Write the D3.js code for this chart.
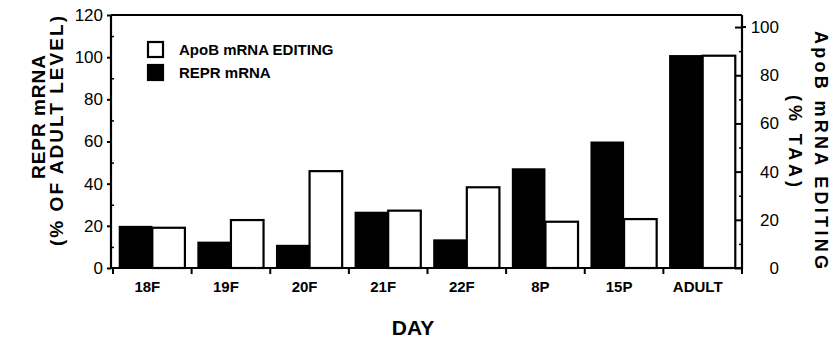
<!DOCTYPE html>
<html>
<head>
<meta charset="utf-8">
<script src="https://cdn.jsdelivr.net/npm/d3@7"></script>
<style>
  body { margin: 0; background: #fff; }
  svg { display: block; font-family: 'Liberation Sans', Arial, sans-serif; }
</style>
</head>
<body>
<svg id="chart" width="834" height="338"></svg>
<script>
// Data
const days = ['18F', '19F', '20F', '21F', '22F', '8P', '15P', 'ADULT'];
const reprMRNA = [20, 12.5, 11, 26.7, 13.6, 47.3, 60, 101];      // % of adult level (left axis)
const apoBEditing = [16.7, 19.9, 40.2, 23.8, 33.5, 19.2, 20.3, 88.1]; // % TAA (right axis)
const leftTicks = [0, 20, 40, 60, 80, 100, 120];
const leftMinor = [10, 30, 50, 70, 90, 110];
const rightTicks = [0, 20, 40, 60, 80, 100];
const rightMinor = [10, 30, 50, 70, 90];

const plot = { left: 111, right: 742, top: 15, bottom: 268 };
const svg = d3.select('#chart');

const x = d3.scaleBand().domain(days).range([113, plot.right]).padding(0);
const sub = d3.scaleBand().domain(['repr', 'apob']).range([0, x.bandwidth()]).paddingOuter(0.17).paddingInner(0);
const yL = d3.scaleLinear().domain([0, 120]).range([plot.bottom, plot.top]);
const yR = d3.scaleLinear().domain([0, 105]).range([plot.bottom, plot.top]);

const rows = days.map((d, i) => ({ day: d, repr: reprMRNA[i], apob: apoBEditing[i] }));

// bars
const groups = svg.append('g').selectAll('g')
  .data(rows)
  .enter()
  .append('g')
  .attr('transform', d => `translate(${x(d.day)},0)`);

groups.append('rect')
  .attr('x', sub('repr'))
  .attr('y', d => yL(d.repr))
  .attr('width', sub.bandwidth())
  .attr('height', d => yL(0) - yL(d.repr))
  .attr('fill', '#000');

groups.append('rect')
  .attr('x', sub('apob'))
  .attr('y', d => yR(d.apob))
  .attr('width', sub.bandwidth() - 1)
  .attr('height', d => yR(0) - yR(d.apob))
  .attr('fill', '#fff')
  .attr('stroke', '#000')
  .attr('stroke-width', 2.2);

// frame
const frame = svg.append('g').attr('stroke', '#000').attr('stroke-width', 2.2);
frame.append('line').attr('x1', plot.left).attr('x2', plot.right).attr('y1', plot.top).attr('y2', plot.top);
frame.append('line').attr('x1', plot.left).attr('x2', plot.right).attr('y1', plot.bottom).attr('y2', plot.bottom);
frame.append('line').attr('x1', plot.left).attr('x2', plot.left).attr('y1', plot.top).attr('y2', plot.bottom + 1);
frame.append('line').attr('x1', plot.right).attr('x2', plot.right).attr('y1', plot.top).attr('y2', plot.bottom + 1);

// left axis
const leftAxis = svg.append('g')
  .attr('transform', `translate(${plot.left},0)`)
  .call(d3.axisLeft(yL).tickValues(leftTicks).tickSize(4).tickPadding(4).tickSizeOuter(0));
leftAxis.select('.domain').remove();
leftAxis.selectAll('line').attr('stroke-width', 2);
leftAxis.selectAll('text').attr('font-size', 17).attr('fill', '#000');

svg.append('g')
  .attr('transform', `translate(${plot.left},0)`)
  .call(d3.axisLeft(yL).tickValues(leftMinor).tickSize(-3).tickFormat(''))
  .call(g => g.select('.domain').remove())
  .selectAll('line').attr('stroke-width', 1.5);

// right axis
const rightAxis = svg.append('g')
  .attr('transform', `translate(${plot.right},0)`)
  .call(d3.axisRight(yR).tickValues(rightTicks).tickSize(-7).tickSizeOuter(0));
rightAxis.select('.domain').remove();
rightAxis.selectAll('line').attr('stroke-width', 2);
rightAxis.selectAll('text')
  .attr('x', 37)
  .attr('text-anchor', 'end')
  .attr('font-size', 17)
  .attr('fill', '#000');

svg.append('g')
  .attr('transform', `translate(${plot.right},0)`)
  .call(d3.axisRight(yR).tickValues(rightMinor).tickSize(-3).tickFormat(''))
  .call(g => g.select('.domain').remove())
  .selectAll('line').attr('stroke-width', 1.5);

// outward stub at 100 on the right axis
svg.append('line')
  .attr('x1', plot.right).attr('x2', plot.right + 4)
  .attr('y1', yR(100)).attr('y2', yR(100))
  .attr('stroke', '#000').attr('stroke-width', 2);

// bottom axis: ticks at band boundaries, labels at band centres
const bounds = days.map(d => x(d)).concat([x.range()[1]]);
svg.append('g').selectAll('line')
  .data(bounds)
  .enter()
  .append('line')
  .attr('x1', d => d).attr('x2', d => d)
  .attr('y1', plot.bottom).attr('y2', plot.bottom + 6)
  .attr('stroke', '#000').attr('stroke-width', 2);

const bottomAxis = svg.append('g')
  .attr('transform', `translate(0,${plot.bottom})`)
  .call(d3.axisBottom(x).tickSize(0).tickPadding(13));
bottomAxis.select('.domain').remove();
bottomAxis.selectAll('text')
  .attr('dx', -5)
  .attr('font-size', 15)
  .attr('font-weight', 'bold')
  .attr('fill', '#000');

// axis titles
svg.append('text')
  .attr('x', 413).attr('y', 335)
  .attr('text-anchor', 'middle')
  .attr('font-size', 21).attr('font-weight', 'bold')
  .text('DAY');

svg.append('text')
  .attr('transform', 'translate(45,117) rotate(-90)')
  .attr('text-anchor', 'middle')
  .attr('font-size', 19).attr('font-weight', 'bold')
  .attr('textLength', 124).attr('lengthAdjust', 'spacing')
  .text('REPR mRNA');

svg.append('text')
  .attr('transform', 'translate(63,131) rotate(-90)')
  .attr('text-anchor', 'middle')
  .attr('font-size', 19).attr('font-weight', 'bold')
  .attr('textLength', 230).attr('lengthAdjust', 'spacing')
  .text('(% OF ADULT LEVEL)');

svg.append('text')
  .attr('transform', 'translate(815,150) rotate(90)')
  .attr('text-anchor', 'middle')
  .attr('font-size', 18).attr('font-weight', 'bold')
  .attr('textLength', 238).attr('lengthAdjust', 'spacing')
  .text('ApoB mRNA EDITING');

svg.append('text')
  .attr('transform', 'translate(789,141) rotate(90)')
  .attr('text-anchor', 'middle')
  .attr('font-size', 18).attr('font-weight', 'bold')
  .attr('textLength', 92).attr('lengthAdjust', 'spacing')
  .text('(% TAA)');

// legend
const legendItems = [
  { label: 'ApoB mRNA EDITING', fill: '#fff' },
  { label: 'REPR mRNA', fill: '#000' }
];
const legend = svg.append('g').attr('transform', 'translate(148,42)');
const li = legend.selectAll('g')
  .data(legendItems)
  .enter()
  .append('g')
  .attr('transform', (d, i) => `translate(0,${i * 23})`);
li.append('rect')
  .attr('width', 15).attr('height', 15)
  .attr('fill', d => d.fill)
  .attr('stroke', '#000').attr('stroke-width', 2.2);
li.append('text')
  .attr('x', 31).attr('y', 13)
  .attr('font-size', 15).attr('font-weight', 'bold')
  .text(d => d.label);
</script>
</body>
</html>
